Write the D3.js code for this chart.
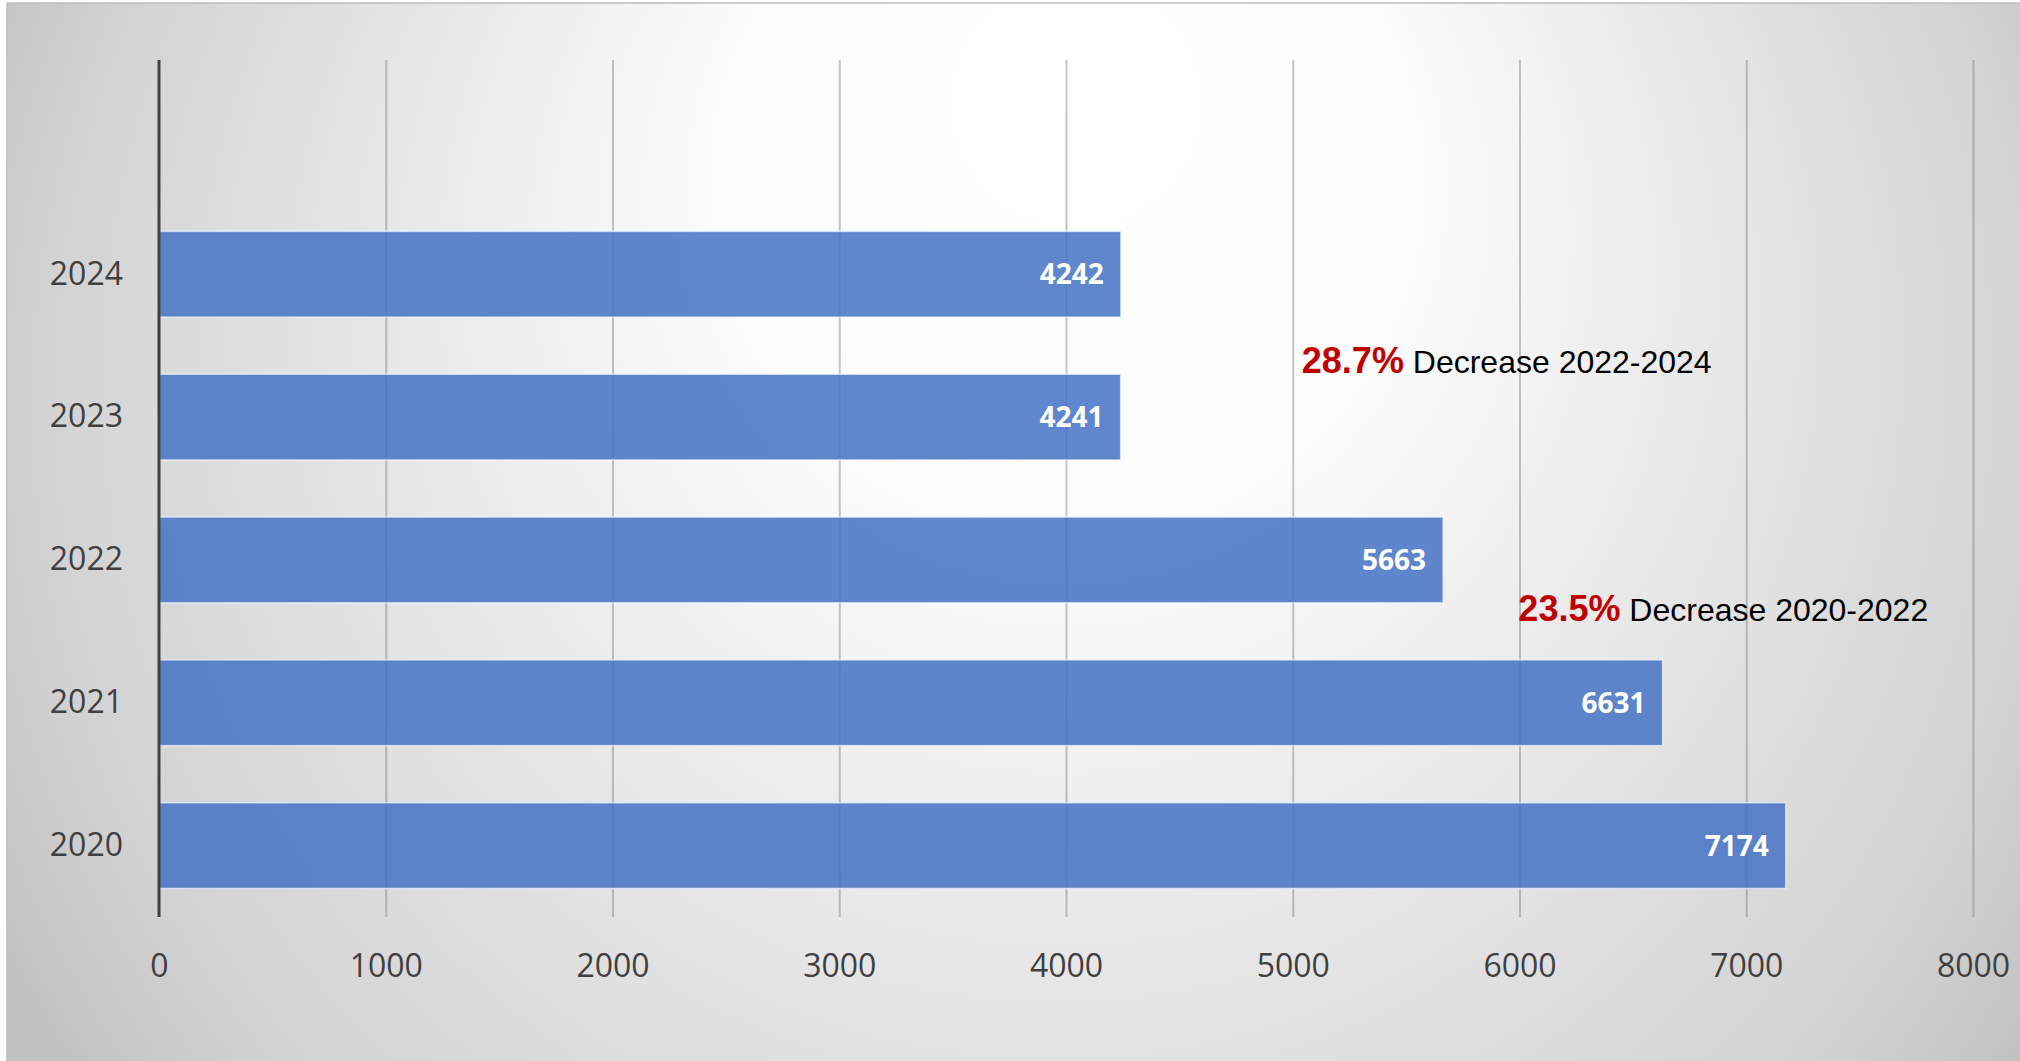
<!DOCTYPE html>
<html>
<head>
<meta charset="utf-8">
<script src="https://cdn.jsdelivr.net/npm/d3@7"></script>
<style>
  html, body { margin: 0; padding: 0; background: #fff; }
  svg { display: block; }
</style>
</head>
<body>
<div id="chart"></div>
<script>
// data, bottom to top; the blank slot is the empty top row of the source chart
const categories = ['2020', '2021', '2022', '2023', '2024', ''];
const values = [7174, 6631, 5663, 4241, 4242, null];
const xTicks = [0, 1000, 2000, 3000, 4000, 5000, 6000, 7000, 8000];
const notePercents = ['28.7%', '23.5%'];
const noteTexts = ['Decrease 2022-2024', 'Decrease 2020-2022'];
const noteAt = [5040, 5995];          // x position in data units

const W = 2020, H = 1061;
const margin = { top: 60, right: 47, bottom: 144, left: 159 };
const width = W - margin.left - margin.right;
const height = H - margin.top - margin.bottom;

const svg = d3.select('#chart').append('svg')
    .attr('width', W)
    .attr('height', H);

// background: light spot near the top middle, grey towards the corners
const defs = svg.append('defs');
const grad = defs.append('radialGradient')
    .attr('id', 'bg')
    .attr('gradientUnits', 'userSpaceOnUse')
    .attr('cx', 1040).attr('cy', 450).attr('r', 1150)
    .attr('fx', 1080).attr('fy', 60);
[[0, '#ffffff'], [0.3, '#fcfcfc'], [0.52, '#ececec'], [0.72, '#dddddd'], [0.88, '#d2d2d2'], [1, '#c2c2c2']]
    .forEach(([o, c]) => grad.append('stop').attr('offset', o).attr('stop-color', c));

svg.append('rect')
    .attr('x', 7).attr('y', 3)
    .attr('width', W).attr('height', H)
    .attr('fill', 'url(#bg)')
    .attr('stroke', '#bdbdbd')
    .attr('stroke-width', 1.5);

const g = svg.append('g')
    .attr('transform', `translate(${margin.left},${margin.top})`);

const x = d3.scaleLinear().domain([0, 8000]).range([0, width]);
const y = d3.scaleBand().domain(categories).range([height, 0])
    .paddingInner(0.4).paddingOuter(0.2);

// gridlines
g.append('g')
    .attr('class', 'grid')
    .attr('transform', `translate(0,${height})`)
    .call(d3.axisBottom(x).tickValues(xTicks.slice(1)).tickSize(-height).tickFormat(''))
    .call(s => s.select('.domain').remove())
    .call(s => s.selectAll('line')
        .attr('stroke', '#7f7f7f')
        .attr('stroke-opacity', 0.45)
        .attr('stroke-width', 2));

// bars
const rows = categories.map((c, i) => ({ cat: c, value: values[i] })).filter(d => d.value != null);

g.append('g').selectAll('rect')
    .data(rows)
    .join('rect')
    .attr('x', 0)
    .attr('y', d => y(d.cat))
    .attr('width', d => x(d.value))
    .attr('height', y.bandwidth())
    .attr('fill', '#4472c4')
    .attr('fill-opacity', 0.85)
    .attr('stroke', '#ffffff')
    .attr('stroke-opacity', 0.6)
    .attr('stroke-width', 1.5);

g.append('g').selectAll('text')
    .data(rows)
    .join('text')
    .attr('x', d => x(d.value) - 17)
    .attr('y', d => y(d.cat) + y.bandwidth() / 2)
    .attr('dy', '0.36em')
    .attr('text-anchor', 'end')
    .attr('fill', '#ffffff')
    .style('font-family', '"Open Sans", sans-serif')
    .style('font-weight', 700)
    .style('font-size', '28px')
    .text(d => d.value);

// x tick labels
g.append('g')
    .attr('transform', `translate(0,${height})`)
    .call(d3.axisBottom(x).tickValues(xTicks).tickSize(0).tickPadding(37).tickFormat(d3.format('d')))
    .call(s => s.select('.domain').remove())
    .call(s => s.selectAll('text')
        .attr('fill', '#404040')
        .style('font-family', '"Open Sans", sans-serif')
        .style('font-size', '32px'));

// category labels
g.append('g')
    .call(d3.axisLeft(y).tickSize(0).tickPadding(36))
    .call(s => s.select('.domain').remove())
    .call(s => s.selectAll('text')
        .attr('fill', '#404040')
        .style('font-family', '"Open Sans", sans-serif')
        .style('font-size', '32px'));

// value axis line
g.append('line')
    .attr('x1', 0).attr('x2', 0)
    .attr('y1', 0).attr('y2', height)
    .attr('stroke', '#404040')
    .attr('stroke-width', 3);

// annotations
const noteY = [
    y('2023') - 1,
    y('2022') + y.bandwidth() + 18
];
notePercents.forEach((p, i) => {
    const t = g.append('text')
        .attr('x', x(noteAt[i]))
        .attr('y', noteY[i])
        .style('font-family', '"Liberation Sans", Arial, sans-serif');
    t.append('tspan')
        .attr('fill', '#c00000')
        .style('font-weight', 700)
        .style('font-size', '36px')
        .text(p);
    t.append('tspan')
        .attr('fill', '#000000')
        .style('font-size', '32px')
        .text(' ' + noteTexts[i]);
});
</script>
</body>
</html>
